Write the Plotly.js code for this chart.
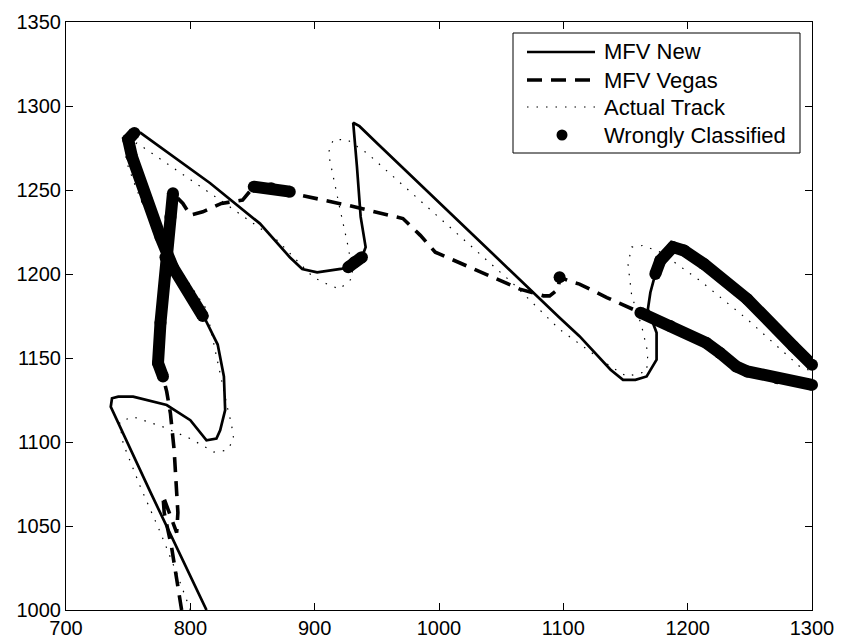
<!DOCTYPE html>
<html>
<head>
<meta charset="utf-8">
<script src="https://cdn.plot.ly/plotly-3.0.1.min.js"></script>
<style>body{margin:0;padding:0;background:#fff;} #chart{width:841px;height:644px;}</style>
</head>
<body>
<div id="chart"></div>
<script>
// MFV New estimate (solid)
var newX = [813,768,736,737,742,754,781,800,813,821,824,828,827,822,812,810,786,776,765,753,750,755,760,816,856,880,890,902,921,927,932,938,941,937,934,931,936,950,1097,1113,1138,1148,1158,1167,1175,1175,1168,1170,1174,1178,1188,1197,1213,1248,1285,1300];
var newY = [1000,1070,1121,1126,1127,1127,1122,1113,1101,1102,1107,1119,1139,1158,1173,1175,1204,1222,1244,1270,1280,1284,1284,1254,1230,1210,1203,1201,1203,1204,1207,1210,1216,1234,1264,1290,1288,1278,1174,1163,1143,1137,1137,1139,1149,1165,1179,1189,1200,1208,1216,1214,1206,1185,1157,1146];

// MFV Vegas estimate (dashed)
var vegasX = [793,789,785,779,778,789,790,789,787,784,781,778,774,776,780,784,786,794,800,810,825,842,851,865,880,888,926,971,985,997,1022,1044,1065,1084,1089,1096,1097,1108,1113,1135,1151,1162,1186,1215,1226,1239,1248,1272,1300];
var vegasY = [1000,1020,1037,1058,1068,1046,1058,1070,1095,1117,1130,1139,1147,1171,1210,1234,1248,1242,1235,1237,1242,1244,1252,1251,1249,1247,1241,1233,1223,1213,1205,1198,1191,1187,1187,1191,1198,1195,1194,1186,1181,1177,1169,1159,1153,1145,1142,1138,1134];

// Actual track (dotted)
var trackX = [800,789,776,760,746,743,754,778,800,819,829,835,833,830,821,813,792,776,757,748,749,757,824,870,891,899,910,920,931,927,920,911,915,926,942,1060,1097,1138,1151,1167,1168,1163,1155,1152,1155,1164,1178,1210,1248,1290,1300];
var trackY = [1000,1022,1046,1073,1099,1112,1115,1109,1102,1094,1095,1101,1111,1120,1151,1179,1202,1218,1250,1268,1274,1278,1244,1220,1204,1198,1194,1191,1198,1216,1240,1272,1280,1280,1272,1194,1167,1145,1139,1142,1153,1169,1187,1206,1216,1217,1213,1196,1173,1145,1142];

// Wrongly classified stretches (null separates stretches)
var wrongX = [778,774,776,780,784,786,null,
              810,786,776,765,753,750,755,null,
              851,865,880,null,
              927,932,938,null,
              1097,null,
              1174,1178,1188,1197,1213,1248,1285,1300,null,
              1162,1186,1215,1226,1239,1248,1272,1300];
var wrongY = [1139,1147,1171,1210,1234,1248,null,
              1175,1204,1222,1244,1270,1280,1284,null,
              1252,1251,1249,null,
              1204,1207,1210,null,
              1198,null,
              1200,1208,1216,1214,1206,1185,1157,1146,null,
              1177,1169,1159,1153,1145,1142,1138,1134];

var seriesNames = ['MFV New','MFV Vegas','Actual Track','Wrongly Classified'];

var FONT = 'Liberation Sans, Arial, Helvetica, sans-serif';

var styleNew   = {color:'#000', width:2.7};
var styleVegas = {color:'#000', width:3.6, dash:'15px,9px'};
var styleTrack = {color:'#000', width:1.2, dash:'1.5px,8px'};

var traces = [
  {x:newX, y:newY, mode:'lines', name:seriesNames[0], line:styleNew},
  {x:vegasX, y:vegasY, mode:'lines', name:seriesNames[1], line:styleVegas},
  {x:trackX, y:trackY, mode:'lines', name:seriesNames[2], line:styleTrack},
  {x:wrongX, y:wrongY, mode:'lines+markers', name:seriesNames[3], cliponaxis:false,
   line:{color:'#000', width:12}, marker:{color:'#000', size:12}, hoverinfo:'skip'}
];

var axisCommon = {
  showgrid:false, zeroline:false, showline:true, linecolor:'#000', linewidth:1,
  mirror:'ticks', ticks:'inside', ticklen:7, tickwidth:1, tickcolor:'#000',
  tickfont:{family:FONT, size:20, color:'#000'}
};

// Legend drawn in paper space (box, samples, labels)
var M = {l:66, r:29, t:22, b:34};
var PW = 841 - M.l - M.r, PH = 644 - M.t - M.b;
function px(v){ return (v - M.l) / PW; }
function py(v){ return (644 - M.b - v) / PH; }
var legBox = {x0:513, x1:800, y0:33, y1:153};
var rowsY = [52, 80, 107, 135];
var sampleX0 = 527, sampleX1 = 595, textX = 602, markX = 562, markR = 5.5;

var shapes = [
  {type:'rect', xref:'paper', yref:'paper', x0:px(legBox.x0), x1:px(legBox.x1), y0:py(legBox.y1), y1:py(legBox.y0),
   line:{color:'#000', width:1}, fillcolor:'#fff', layer:'above'}
];
var lineStyles = [styleNew, styleVegas, styleTrack];
for (var i = 0; i < 3; i++) {
  shapes.push({type:'line', xref:'paper', yref:'paper', x0:px(sampleX0), x1:px(sampleX1),
    y0:py(rowsY[i]), y1:py(rowsY[i]), line:lineStyles[i], layer:'above'});
}
shapes.push({type:'circle', xref:'paper', yref:'paper', x0:px(markX-markR), x1:px(markX+markR),
  y0:py(rowsY[3]+markR), y1:py(rowsY[3]-markR), fillcolor:'#000', line:{color:'#000', width:0}, layer:'above'});

var annotations = seriesNames.map(function(n, i){
  return {xref:'paper', yref:'paper', x:px(textX), y:py(rowsY[i]), text:n, showarrow:false,
    xanchor:'left', yanchor:'middle', font:{family:FONT, size:22, color:'#000'}};
});

var layout = {
  width:841, height:644,
  margin:{l:M.l, r:M.r, t:M.t, b:M.b, pad:0},
  paper_bgcolor:'#fff', plot_bgcolor:'#fff',
  showlegend:false,
  xaxis:Object.assign({}, axisCommon, {range:[700,1300], tick0:700, dtick:100}),
  yaxis:Object.assign({}, axisCommon, {range:[1000,1350], tick0:1000, dtick:50}),
  shapes:shapes,
  annotations:annotations
};

Plotly.newPlot('chart', traces, layout, {staticPlot:true, displayModeBar:false});
</script>
</body>
</html>
